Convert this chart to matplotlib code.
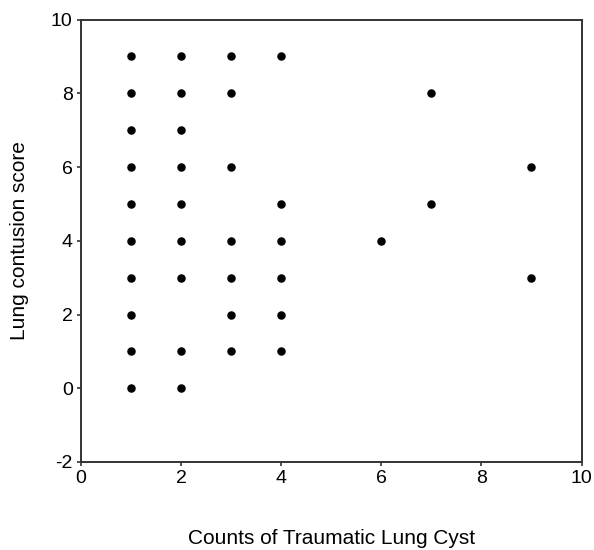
import matplotlib
matplotlib.use("Agg")
import matplotlib.pyplot as plt

# counts of traumatic lung cyst vs lung contusion score
cyst_counts = [1, 1, 1, 1, 1, 1, 1, 1, 1, 1,
               2, 2, 2, 2, 2, 2, 2, 2, 2,
               3, 3, 3, 3, 3, 3, 3,
               4, 4, 4, 4, 4, 4,
               6,
               7, 7,
               9, 9]
contusion_scores = [0, 1, 2, 3, 4, 5, 6, 7, 8, 9,
                    0, 1, 3, 4, 5, 6, 7, 8, 9,
                    1, 2, 3, 4, 6, 8, 9,
                    1, 2, 3, 4, 5, 9,
                    4,
                    5, 8,
                    3, 6]

plt.rcParams["font.family"] = ["Liberation Sans", "DejaVu Sans"]
plt.rcParams["axes.unicode_minus"] = False

fig = plt.figure(figsize=(5.94, 5.5), dpi=100)
ax = fig.add_axes([0.1364, 0.16, 0.979 - 0.1364, 0.9645 - 0.16])

ax.scatter(cyst_counts, contusion_scores, s=26, color="black", zorder=3)

ax.set_xlim(0, 10)
ax.set_ylim(-2, 10)
ax.set_xticks(range(0, 11, 2))
ax.set_yticks(range(-2, 11, 2))
ax.tick_params(direction="out", length=3, width=1.2, labelsize=14, color="#333333", pad=3)

for sp in ax.spines.values():
    sp.set_linewidth(1.4)
    sp.set_color("#333333")

ax.set_xlabel("Counts of Traumatic Lung Cyst", fontsize=15, labelpad=30)
ax.set_ylabel("Lung contusion score", fontsize=15, labelpad=16)

fig.savefig("out.png", dpi=100)
